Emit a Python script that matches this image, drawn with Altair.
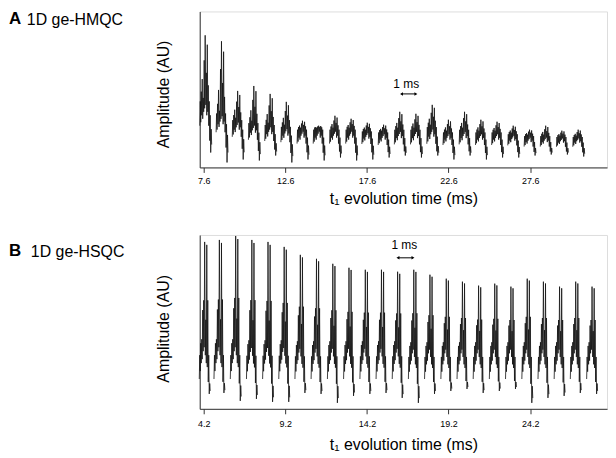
import altair as alt
import pandas as pd

FONT = "Liberation Sans"

# ---------------- Panel A : 1D ge-HMQC ----------------
a_starts = [7.36, 8.36, 9.35, 10.34, 11.34, 12.33, 13.32, 14.31, 15.31, 16.30, 17.29, 18.29,
            19.28, 20.27, 21.27, 22.26, 23.25, 24.25, 25.24, 26.23, 27.23, 28.22, 29.21, 30.21]
a_peak = [133, 127, 77, 82, 74, 66, 47, 42, 52, 49, 45, 43, 56, 54, 63, 48, 56, 48, 46, 42, 38, 42, 37, 38]
a_body = [70, 57, 50, 47, 45, 43, 40, 40, 40, 40, 38, 37, 40, 40, 43, 37, 40, 37, 37, 35, 33, 33, 32, 32]
a_base = [35, 30, 26, 23, 22, 21, 20, 20, 20, 20, 20, 19, 19, 19, 19, 19, 19, 19, 19, 19, 18, 18, 18, 18]
a_low = [15, 5, 8, 7, 12, 5, 8, 7, 10, 7, 8, 10, 12, 10, 12, 8, 12, 8, 10, 10, 12, 13, 13, 11]
a_tpl_t = [0.00, 0.03, 0.06, 0.09, 0.12, 0.15, 0.18, 0.21, 0.24, 0.27, 0.30, 0.33, 0.37,
           0.40, 0.43, 0.46, 0.49, 0.52, 0.55, 0.58, 0.61, 0.64, 0.67, 0.70, 0.73]
a_tpl_v = [0.2, 0.9, 0.3, 1.1, 0.5, 1.3, 0.4, 1.0, 0.6, 1.6, 0.7, 2.0, 0.8,
           1.4, 0.5, 1.85, 0.6, 1.2, 0.2, 0.9, -0.4, 0.5, -1.0, 0.1, -0.6]
a_ticks = [7.6, 12.6, 17.6, 22.6, 27.6]
a_domain = [7.357, 32.307]

# ---------------- Panel B : 1D ge-HSQC ----------------
b_starts = [3.93, 4.83, 5.83, 6.82, 7.81, 8.80, 9.79, 10.78, 11.78, 12.77, 13.77, 14.76, 15.75,
            16.74, 17.73, 18.73, 19.72, 20.71, 21.70, 22.69, 23.69, 24.68, 25.67, 26.66, 27.66]
b_peak = [168, 170, 174, 170, 168, 163, 155, 151, 146, 142, 140, 140, 138,
          140, 135, 131, 128, 124, 126, 123, 131, 128, 123, 128, 123]
b_body = [70, 70, 70, 69, 69, 69, 68, 68, 68, 68, 68, 68, 68,
          67, 67, 67, 67, 67, 67, 67, 67, 67, 67, 67, 67]
b_base = [30, 30, 30, 30, 30, 30, 30, 30, 30, 30, 30, 30, 30,
          30, 30, 30, 30, 30, 30, 30, 30, 30, 30, 30, 30]
b_low = [15, 16, 8, 10, 7, 7, 16, 15, 6, 13, 15, 16, 11, 6, 15, 18, 20, 16, 18, 20, 6, 11, 13, 16, 15]
b_tpl_t = [0.00, 0.03, 0.06, 0.09, 0.12, 0.15, 0.18, 0.21, 0.24, 0.27, 0.30, 0.33,
           0.37, 0.40, 0.43, 0.46, 0.49, 0.52, 0.55, 0.58, 0.61, 0.64, 0.67]
b_tpl_v = [0.0, 0.6, 0.2, 0.9, 0.4, 1.0, 0.5, 1.3, 0.7, 1.4, 0.8, 2.0,
           0.6, 1.2, 0.4, 1.97, 0.3, 1.4, -0.2, 0.6, -1.0, -0.3, -0.8]
b_ticks = [4.2, 9.2, 14.2, 19.2, 24.2]
b_domain = [3.957, 28.907]


def level(v, low, base, body, peak):
    if v <= 0:
        return base + v * (base - low)
    if v <= 1:
        return base + v * (body - base)
    return body + (v - 1) * (peak - body)


def build(starts, peak, body, base, low, tpl_t, tpl_v):
    rows = []
    for i, s in enumerate(starts):
        for dt, lv in zip(tpl_t, tpl_v):
            rows.append({"t": s + dt, "v": level(lv, low[i], base[i], body[i], peak[i]), "burst": i})
    return pd.DataFrame(rows)


def panel(df, domain, ticks, ymax, height, letter, label, label_x, head_y, title_y, note,
          lab_pad, tit_pad):
    xs = alt.Scale(domain=domain, nice=False, zero=False)
    ys = alt.Scale(domain=[0, ymax], nice=False, zero=False)
    line = alt.Chart(df).mark_line(color="#111111", strokeWidth=0.8).encode(
        x=alt.X("t:Q", scale=xs, axis=alt.Axis(
            values=ticks, format=".1f", tickSize=5, labelFontSize=9, labelPadding=lab_pad,
            labelFont=FONT, labelColor="#000", title="t\u2081 evolution time (ms)",
            titleFont=FONT, titleFontSize=16, titleFontWeight="normal", titleColor="#000",
            titlePadding=tit_pad, domainColor="#333", tickColor="#333", grid=False)),
        y=alt.Y("v:Q", scale=ys, axis=alt.Axis(
            labels=False, ticks=False, grid=False, title="Amplitude (AU)",
            titleFont=FONT, titleFontSize=16, titleFontWeight="normal", titleColor="#000",
            titlePadding=28, titleY=title_y, domainColor="#333")),
        detail="burst:N",
    )
    head = pd.DataFrame({"s": [letter, label]})
    h1 = alt.Chart(head.iloc[[0]]).mark_text(
        align="left", baseline="top", fontSize=17, fontWeight="bold", font=FONT, color="#000"
    ).encode(x=alt.value(-192), y=alt.value(head_y), text="s:N")
    h2 = alt.Chart(head.iloc[[1]]).mark_text(
        align="left", baseline="top", fontSize=16, font=FONT, color="#000"
    ).encode(x=alt.value(label_x), y=alt.value(head_y + 1), text="s:N")
    nd = pd.DataFrame([note])
    ntext = alt.Chart(nd).mark_text(fontSize=12, font=FONT, color="#000").encode(
        x=alt.X("tc:Q", scale=xs), y=alt.Y("vt:Q", scale=ys), text=alt.value("1 ms"))
    rule = alt.Chart(nd).mark_rule(color="#000", strokeWidth=1).encode(
        x=alt.X("t1:Q", scale=xs), x2="t2:Q", y=alt.Y("va:Q", scale=ys))
    left = alt.Chart(nd).mark_point(shape="triangle-left", filled=True, size=12, color="#000", opacity=1).encode(
        x=alt.X("t1:Q", scale=xs), y=alt.Y("va:Q", scale=ys))
    right = alt.Chart(nd).mark_point(shape="triangle-right", filled=True, size=12, color="#000", opacity=1).encode(
        x=alt.X("t2:Q", scale=xs), y=alt.Y("va:Q", scale=ys))
    return alt.layer(line, h1, h2, ntext, rule, left, right).properties(width=410, height=height)


a_df = build(a_starts, a_peak, a_body, a_base, a_low, a_tpl_t, a_tpl_v)
b_df = build(b_starts, b_peak, b_body, b_base, b_low, b_tpl_t, b_tpl_v)

pa = panel(a_df, a_domain, a_ticks, 157, 157, "A", "1D ge-HMQC", -174, 0, 83,
           {"tc": 20.01, "vt": 84, "t1": 19.72, "t2": 20.60, "va": 74}, 4, 5)
pb = panel(b_df, b_domain, b_ticks, 175, 175, "B", "1D ge-HSQC", -170, 8, 94,
           {"tc": 16.49, "vt": 165, "t1": 16.10, "t2": 17.02, "va": 152}, 6, 8)

chart = alt.vconcat(pa, pb, spacing=68, bounds="flush").configure_view(stroke=None).configure(
    background="white").properties(padding=0)
chart.save("out.html", embed_options={"renderer": "svg", "actions": False})
